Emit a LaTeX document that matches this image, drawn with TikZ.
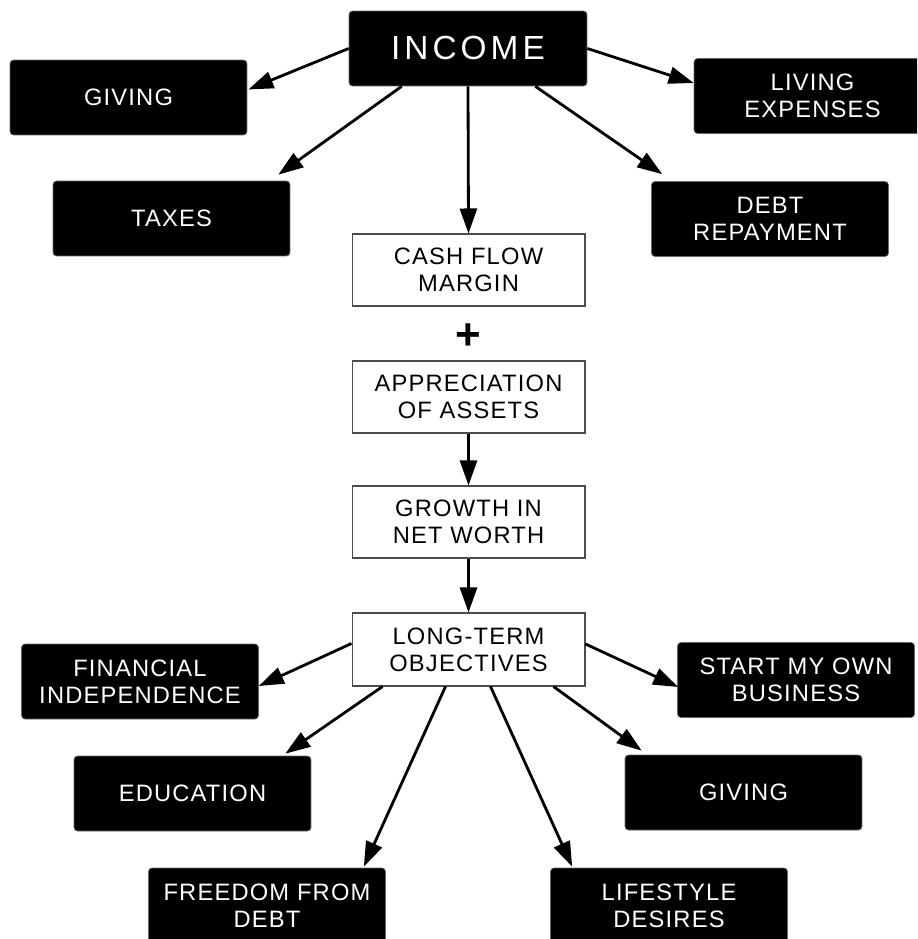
\documentclass[tikz,border=0pt]{standalone}
\usepackage{fontspec}
\setmainfont{Liberation Sans}
\newfontfamily\boxfont[LetterSpace=5]{Liberation Sans}
\newfontfamily\headfont[LetterSpace=12]{Liberation Sans}
\usetikzlibrary{arrows.meta,calc}
\begin{document}
\begin{tikzpicture}[x=0.02cm,y=-0.02cm,
  blackbox/.style={fill=black,draw=black!60,rounded corners=2pt,text=white,
    minimum width=4.74cm,minimum height=1.5cm,align=center,inner sep=2pt,
    font=\boxfont\fontsize{13.5}{15.4}\selectfont},
  whitebox/.style={fill=white,draw=black!70,line width=0.6pt,
    minimum width=4.66cm,minimum height=1.44cm,align=center,inner sep=2pt,
    font=\boxfont\fontsize{13.5}{15.4}\selectfont},
  link/.style={line width=1.6pt,-{Triangle[length=0.5cm,width=0.34cm]}}]
\useasboundingbox (0,0) rectangle (917,939);
\clip (0,0) rectangle (917,939);

% top part
\node[blackbox,minimum width=4.76cm,font=\headfont\fontsize{19}{22}\selectfont] (inc) at (468,48.5) {INCOME};
\node[blackbox] (giv) at (128.5,97.5) {GIVING};
\node[blackbox] (liv) at (812.5,96) {LIVING\\EXPENSES};
\node[blackbox] (tax) at (171.5,218.5) {TAXES};
\node[blackbox] (debt) at (770,219) {DEBT\\REPAYMENT};

% middle column
\node[whitebox] (cash) at (468.5,270) {CASH FLOW\\MARGIN};
\node[font=\bfseries\fontsize{25}{25}\selectfont] (plus) at (468,337) {+};
\node[whitebox] (app) at (468.5,397) {APPRECIATION\\OF ASSETS};
\node[whitebox] (grow) at (468.5,522) {GROWTH IN\\NET WORTH};
\node[whitebox,minimum height=1.46cm] (lt) at (468.5,649.5) {LONG-TERM\\OBJECTIVES};

% bottom part
\node[blackbox] (fin) at (140,681.5) {FINANCIAL\\INDEPENDENCE};
\node[blackbox] (own) at (796,680) {START MY OWN\\BUSINESS};
\node[blackbox] (edu) at (192.5,793.5) {EDUCATION};
\node[blackbox] (giv2) at (743.5,792.5) {GIVING};
\node[blackbox] (free) at (267,905.5) {FREEDOM FROM\\DEBT};
\node[blackbox] (life) at (669,905.5) {LIFESTYLE\\DESIRES};

% arrows from income
\draw[link] (inc.west) -- ($(giv.east)+(1,-8)$);
\draw[link] ($(inc.south west)+(53,0)$) -- ($(tax.north east)+(-12,-6)$);
\draw[link] (inc.south) -- (cash.north);
\draw[link] (inc.east) -- ($(liv.west)+(0,-13)$);
\draw[link] ($(inc.south east)+(-52,0)$) -- ($(debt.north west)+(11,-7)$);

\draw[link] (app.south) -- (grow.north);
\draw[link] (grow.south) -- (lt.north);

% arrows to objectives
\draw[link] ($(lt.west)+(0,-6)$) -- ($(fin.east)+(0,4.5)$);
\draw[link] ($(lt.south west)+(31,0)$) -- ($(edu.north east)+(-26,-2)$);
\draw[link] ($(lt.south west)+(94,0)$) -- ($(free.north east)+(-22,-1)$);
\draw[link] ($(lt.south east)+(-95,0)$) -- ($(life.north west)+(22,-1)$);
\draw[link] ($(lt.south east)+(-32,0)$) -- ($(giv2.north west)+(17,-4)$);
\draw[link] ($(lt.east)+(0,-5.5)$) -- ($(own.west)+(1,7)$);
\end{tikzpicture}
\end{document}
